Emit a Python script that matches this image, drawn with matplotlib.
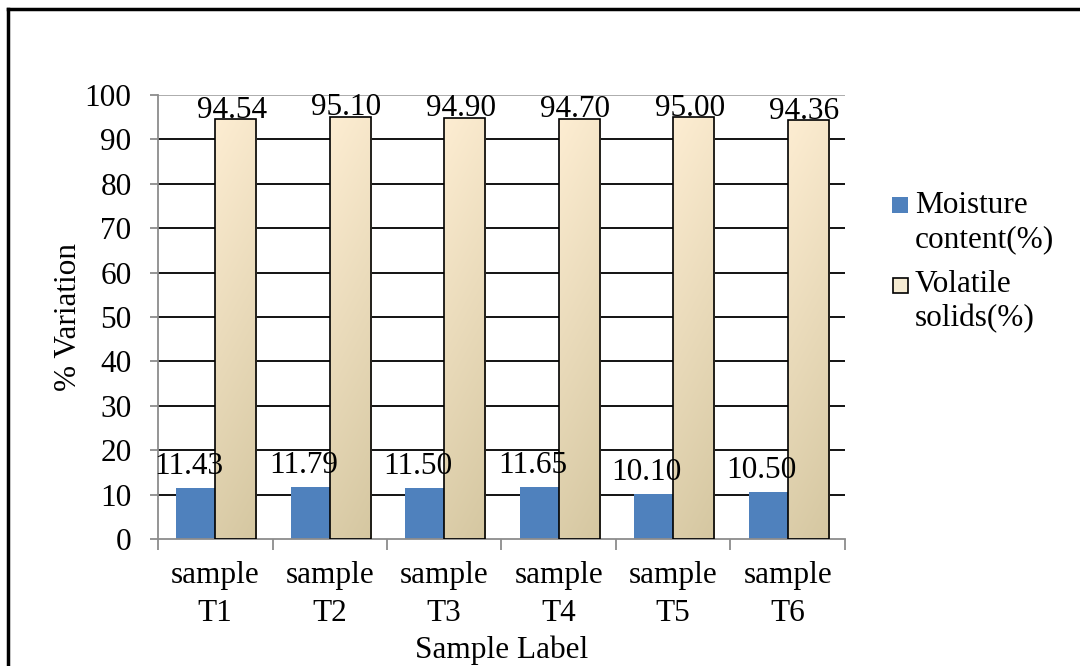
import matplotlib
matplotlib.use("Agg")
import matplotlib.pyplot as plt
import numpy as np
from matplotlib.patches import Rectangle
from matplotlib.lines import Line2D

categories = ["sample\nT1", "sample\nT2", "sample\nT3", "sample\nT4", "sample\nT5", "sample\nT6"]
moisture = [11.43, 11.79, 11.50, 11.65, 10.10, 10.50]
volatile = [94.54, 95.10, 94.90, 94.70, 95.00, 94.36]
series_names = ["Moisture\ncontent(%)", "Volatile\nsolids(%)"]
yticks = [0, 10, 20, 30, 40, 50, 60, 70, 80, 90, 100]

plt.rcParams['font.family'] = ['Liberation Serif', 'DejaVu Serif']
FS = 22.5

fig = plt.figure(figsize=(10.8, 6.66), dpi=100)
ax = fig.add_axes([158/1080, 1-539/666, (845-158)/1080, (539-95)/666])

x = np.arange(len(categories))
w = 0.36
blue = "#4F81BD"

# gridlines
for t in yticks[1:-1]:
    ax.axhline(t, color="black", lw=1.3, zorder=0)
ax.axhline(100, color="#A6A6A6", lw=1.3, zorder=0)

ax.bar(x - w/2 + 0.01, moisture, width=w - 0.02, color=blue, zorder=2)
vbars = ax.bar(x + w/2, volatile, width=w, color="none", edgecolor="black", lw=1.2, zorder=3)

# gradient fill for volatile bars
top_c = np.array([253, 237, 210]) / 255
bot_c = np.array([213, 199, 161]) / 255
ny, nx = 100, 20
yy, xx = np.mgrid[0:ny, 0:nx]
frac = (yy / (ny - 1)) * 0.85 + (xx / (nx - 1)) * 0.15  # 0 at top-left
img = top_c[None, None, :] * (1 - frac[..., None]) + bot_c[None, None, :] * frac[..., None]
for b in vbars:
    x0, y0 = b.get_x(), b.get_y()
    bw, bh = b.get_width(), b.get_height()
    im = ax.imshow(img, extent=[x0, x0 + bw, y0, y0 + bh], origin="upper",
                   aspect="auto", zorder=2.5, interpolation="bilinear")
    im.set_clip_path(b)

ax.set_xlim(-0.5, len(categories) - 0.5)
ax.set_ylim(0, 100)

# value labels
for xi, v in zip(x, moisture):
    ax.annotate(f"{v:.2f}", (xi - w/2 + 0.01, v), xytext=(-5, 10), textcoords="offset points",
                ha="center", va="baseline", fontsize=FS, zorder=5)
for xi, v in zip(x, volatile):
    ax.annotate(f"{v:.2f}", (xi + w/2, v), xytext=(-3, 1), textcoords="offset points",
                ha="center", va="baseline", fontsize=FS, zorder=5)

for s in ["top", "right"]:
    ax.spines[s].set_visible(False)
for s in ["left", "bottom"]:
    ax.spines[s].set_color("#8C8C8C")
    ax.spines[s].set_linewidth(1.3)

ax.set_yticks(yticks)
ax.set_yticklabels([str(t) for t in yticks], fontsize=FS)
ax.tick_params(axis="y", length=6, width=1.3, color="#8C8C8C", pad=13)

ax.set_xticks(x)
ax.set_xticklabels(categories, fontsize=FS, linespacing=1.42)
ax.set_xticks(np.arange(-0.5, len(categories)), minor=True)
ax.tick_params(axis="x", which="major", length=0, pad=16)
ax.tick_params(axis="x", which="minor", length=8, width=1.3, color="#8C8C8C")

ax.set_ylabel("% Variation", fontsize=FS, labelpad=1)
ax.set_xlabel("Sample Label", fontsize=FS, labelpad=5)

# legend (manual)
fig.patches.append(Rectangle((892/1080, 1-213/666), 16/1080, 16/666, transform=fig.transFigure,
                             facecolor=blue, edgecolor="none"))
fig.patches.append(Rectangle((893/1080, 1-293/666), 15/1080, 15/666, transform=fig.transFigure,
                             facecolor="#F5EBD2", edgecolor="black", lw=1.2))
fig.text(915/1080, 1-191/666, series_names[0], fontsize=FS, va="top", ha="left", linespacing=1.22)
fig.text(915/1080, 1-270/666, series_names[1], fontsize=FS, va="top", ha="left", linespacing=1.22)

# outer border (top and left)
fig.add_artist(Line2D([8/1080, 1], [1-9/666, 1-9/666], color="black", lw=2.5, transform=fig.transFigure))
fig.add_artist(Line2D([8/1080, 8/1080], [0, 1-9/666], color="black", lw=2.5, transform=fig.transFigure))

fig.savefig("out.png", dpi=100, facecolor="white")
